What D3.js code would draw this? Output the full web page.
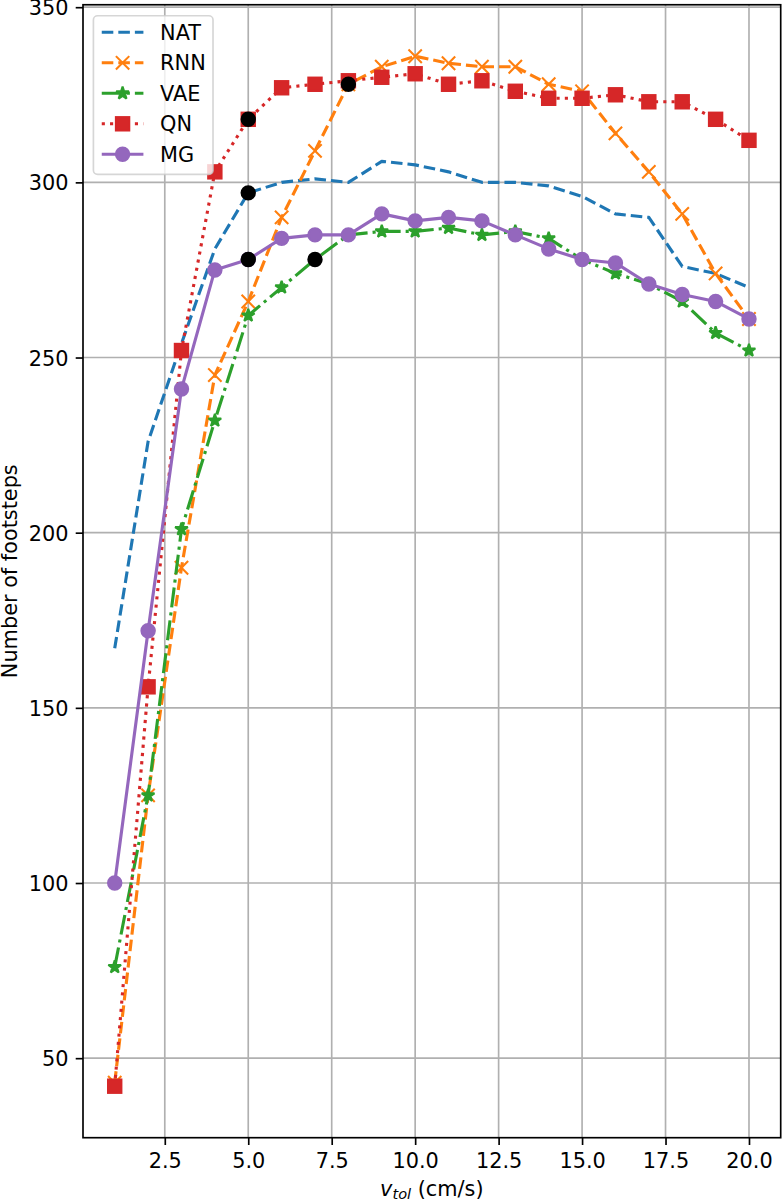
<!DOCTYPE html>
<html><head><meta charset="utf-8">
<script src="https://cdn.jsdelivr.net/npm/d3@7"></script>
<style>html,body{margin:0;padding:0;background:#fff;} svg{display:block;font-family:"DejaVu Sans",sans-serif;}</style>
</head><body><svg id="c" width="784" height="1203"></svg>
<script>
// ---- data ----
const vtol = [1, 2, 3, 4, 5, 6, 7, 8, 9, 10, 11, 12, 13, 14, 15, 16, 17, 18, 19, 20];
const NAT = [167, 226, 254, 281, 297, 300, 301, 300, 306, 305, 303, 300, 300, 299, 296, 291, 290, 276, 274, 270];
const RNN = [43, 125, 190, 245, 266, 290, 309, 328, 333, 336, 334, 333, 333, 328, 326, 314, 303, 291, 274, 261];
const VAE = [76, 125, 201, 232, 262, 270, 278, 285, 286, 286, 287, 285, 286, 284, 278, 274, 271, 266, 257, 252];
const QN  = [42, 156, 252, 303, 318, 327, 328, 329, 330, 331, 328, 329, 326, 324, 324, 325, 323, 323, 318, 312];
const MG  = [100, 172, 241, 275, 278, 284, 285, 285, 291, 289, 290, 289, 285, 281, 278, 277, 271, 268, 266, 261];
const seriesNames = ["NAT", "RNN", "VAE", "QN", "MG"];
const highlightX = [5, 5, 5, 7, 8];
const highlightY = [318, 297, 278, 278, 328];
const xTicks = [2.5, 5, 7.5, 10, 12.5, 15, 17.5, 20];
const yTicks = [50, 100, 150, 200, 250, 300, 350];
const yLabel = "Number of footsteps";

// ---- layout ----
const S = 150 / 72;
const FS = 10 * S;
const L = 83, R = 780.7, T = 4.75, B = 1137.7;
const x = d3.scaleLinear().domain([0.05, 20.95]).range([L, R]);
const y = d3.scaleLinear().domain([27.3, 350.7]).range([B, T]);
const svg = d3.select("#c");

const styles = {
  NAT: {color: "#1f77b4", dash: [3.7 * 1.5 * S, 1.6 * 1.5 * S], marker: null, data: NAT},
  RNN: {color: "#ff7f0e", dash: [3.7 * 1.5 * S, 1.6 * 1.5 * S], marker: "x", data: RNN},
  VAE: {color: "#2ca02c", dash: [6.4 * 1.5 * S, 1.6 * 1.5 * S, 1 * 1.5 * S, 1.6 * 1.5 * S], marker: "star", data: VAE},
  QN:  {color: "#d62728", dash: [1 * 1.5 * S, 1.65 * 1.5 * S], marker: "square", data: QN},
  MG:  {color: "#9467bd", dash: null, marker: "circle", data: MG}
};

// grid
const grid = svg.append("g");
xTicks.forEach(t => grid.append("line").attr("x1", x(t)).attr("x2", x(t)).attr("y1", T).attr("y2", B)
  .attr("stroke", "#b0b0b0").attr("stroke-width", 0.8 * S));
yTicks.forEach(t => grid.append("line").attr("x1", L).attr("x2", R).attr("y1", y(t)).attr("y2", y(t))
  .attr("stroke", "#b0b0b0").attr("stroke-width", 0.8 * S));

// axes
const xAxis = svg.append("g").attr("transform", `translate(0,${B})`)
  .call(d3.axisBottom(x).tickValues(xTicks).tickFormat(d3.format(".1f")).tickSize(3.5 * S).tickPadding(3.5 * S));
const yAxis = svg.append("g").attr("transform", `translate(${L},0)`)
  .call(d3.axisLeft(y).tickValues(yTicks).tickFormat(d3.format("d")).tickSize(3.5 * S).tickPadding(3.5 * S));
[xAxis, yAxis].forEach(a => {
  a.select(".domain").remove();
  a.selectAll(".tick line").attr("stroke", "#000").attr("stroke-width", 0.8 * S);
  a.selectAll(".tick text").attr("fill", "#000").attr("font-size", FS).attr("font-family", "DejaVu Sans");
});
xAxis.selectAll(".tick text").attr("dy", null).attr("y", 3.5 * S * 2 + 15.4);
yAxis.selectAll(".tick text").attr("dy", "0.36em");

function starPath(Rr) {
  const r = Rr * 0.381966, pts = [];
  for (let i = 0; i < 10; i++) {
    const a = -Math.PI / 2 + i * Math.PI / 5, rad = i % 2 ? r : Rr;
    pts.push([rad * Math.cos(a), rad * Math.sin(a)]);
  }
  return "M" + pts.map(p => p[0].toFixed(2) + "," + p[1].toFixed(2)).join("L") + "Z";
}
const ms = 6.4 * S, mew = 1 * S;
function drawMarker(g, type, color, cx, cy) {
  if (type === "x") {
    const h = ms / 2;
    g.append("path").attr("d", `M${cx - h},${cy - h}L${cx + h},${cy + h}M${cx - h},${cy + h}L${cx + h},${cy - h}`)
      .attr("stroke", color).attr("stroke-width", mew).attr("fill", "none");
  } else if (type === "star") {
    g.append("path").attr("d", starPath(ms / 2)).attr("transform", `translate(${cx},${cy})`)
      .attr("fill", color).attr("stroke", color).attr("stroke-width", mew).attr("stroke-linejoin", "bevel");
  } else if (type === "square") {
    g.append("rect").attr("x", cx - ms / 2).attr("y", cy - ms / 2).attr("width", ms).attr("height", ms)
      .attr("fill", color).attr("stroke", color).attr("stroke-width", mew).attr("stroke-linejoin", "miter");
  } else if (type === "circle") {
    g.append("circle").attr("cx", cx).attr("cy", cy).attr("r", ms / 2)
      .attr("fill", color).attr("stroke", color).attr("stroke-width", mew);
  }
}

// clip
svg.append("clipPath").attr("id", "clip").append("rect").attr("x", L).attr("y", T).attr("width", R - L).attr("height", B - T);
const plot = svg.append("g").attr("clip-path", "url(#clip)");
const line = d3.line().x((d, i) => x(vtol[i])).y(d => y(d));
seriesNames.forEach(name => {
  const st = styles[name];
  const g = plot.append("g");
  g.append("path").attr("d", line(st.data)).attr("fill", "none").attr("stroke", st.color)
    .attr("stroke-width", 1.5 * S).attr("stroke-linejoin", "round").attr("stroke-linecap", st.dash ? "butt" : "square")
    .attr("stroke-dasharray", st.dash ? st.dash.join(",") : null);
  if (st.marker) st.data.forEach((v, i) => drawMarker(g, st.marker, st.color, x(vtol[i]), y(v)));
});
const hg = plot.append("g");
highlightX.forEach((hx, i) => drawMarker(hg, "circle", "#000", x(hx), y(highlightY[i])));

// frame
svg.append("rect").attr("x", L).attr("y", T).attr("width", R - L).attr("height", B - T)
  .attr("fill", "none").attr("stroke", "#000").attr("stroke-width", 0.8 * S);

// axis labels
svg.append("text").attr("transform", `translate(16.7,${(T + B) / 2}) rotate(-90)`)
  .attr("text-anchor", "middle").attr("font-size", FS).attr("fill", "#000").text(yLabel);
const xl = svg.append("text").attr("x", (L + R) / 2).attr("y", 1195.5).attr("text-anchor", "middle")
  .attr("font-size", FS).attr("fill", "#000");
xl.append("tspan").attr("font-style", "italic").text("v");
xl.append("tspan").attr("font-style", "italic").attr("font-size", FS * 0.7).attr("dy", 3.5).text("tol");
xl.append("tspan").attr("dy", -3.5).text(" (cm/s)");

// legend
const lg = svg.append("g");
const lx = L + 0.5 * FS, ly = T + 0.5 * FS + 0.6;
lg.append("rect").attr("x", lx).attr("y", ly).attr("width", 119.6).attr("height", 158.6)
  .attr("rx", 0.2 * FS).attr("fill", "#fff").attr("fill-opacity", 0.8)
  .attr("stroke", "#cccccc").attr("stroke-opacity", 0.8).attr("stroke-width", 0.8 * S);
seriesNames.forEach((name, i) => {
  const st = styles[name];
  const cy = 32.3 + i * 30.5;
  const hx0 = lx + 0.4 * FS, hx1 = hx0 + 2 * FS;
  lg.append("line").attr("x1", hx0).attr("x2", hx1).attr("y1", cy).attr("y2", cy)
    .attr("stroke", st.color).attr("stroke-width", 1.5 * S)
    .attr("stroke-dasharray", st.dash ? st.dash.join(",") : null);
  if (st.marker) drawMarker(lg, st.marker, st.color, (hx0 + hx1) / 2, cy);
  lg.append("text").attr("x", hx1 + 0.8 * FS).attr("y", cy + 7.4).attr("font-size", FS).attr("fill", "#000").text(name);
});
</script></body></html>
